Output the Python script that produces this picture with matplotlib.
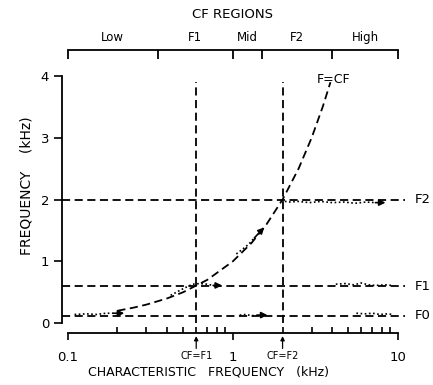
import numpy as np
import matplotlib
matplotlib.use("Agg")
import matplotlib.pyplot as plt
from matplotlib.transforms import blended_transform_factory
from matplotlib.ticker import NullFormatter

plt.rcParams['font.family'] = ['DejaVu Sans']

# CF regions (top bracket axis)
region_bounds = [0.1, 0.35, 1.0, 1.5, 4.0, 10.0]
region_names = ['Low', 'F1', 'Mid', 'F2', 'High']

# formant frequencies (kHz)
formant_names = ['F0', 'F1', 'F2']
formant_freqs = [0.12, 0.6, 2.0]

# CF = F1 and CF = F2 markers
cf_marks = [0.6, 2.0]
cf_labels = ['CF=F1', 'CF=F2']

# F = CF line
cf_curve = [0.2, 0.25, 0.3, 0.4, 0.5, 0.7, 1.0, 1.3, 1.6, 2.0, 2.5, 3.0, 3.5, 3.9]

# response traces (dotted)
low_x = [0.11, 0.13, 0.15, 0.17, 0.19]
low_y = [0.14, 0.15, 0.14, 0.16, 0.16]
low_arrow = (0.22, 0.16)
f1a_x = [0.42, 0.47, 0.52, 0.57, 0.63, 0.70, 0.76]
f1a_y = [0.45, 0.52, 0.58, 0.63, 0.64, 0.63, 0.61]
f1a_arrow = (0.86, 0.61)
mid_x = [1.1, 1.2, 1.3, 1.42]
mid_y = [0.13, 0.14, 0.12, 0.13]
mid_arrow = (1.62, 0.13)
f2c_x = [1.05, 1.15, 1.25, 1.35]
f2c_y = [1.12, 1.2, 1.28, 1.38]
f2c_arrow = (1.55, 1.55)
f2_x = [1.95, 2.2, 2.5, 2.9, 3.4, 4.0, 4.7, 5.5, 6.4, 7.3]
f2_y = [1.98, 1.96, 1.97, 1.95, 1.97, 1.95, 1.96, 1.94, 1.96, 1.95]
f2_arrow = (8.4, 1.95)
f1r_x = [4.2, 4.8, 5.4, 6.0, 6.6, 7.3, 8.4, 9.2]
f1r_y = [0.63, 0.64, 0.62, 0.65, 0.62, 0.61, 0.62, 0.61]
f0r_x = [5.6, 6.3, 7.0, 7.8, 8.6, 9.4]
f0r_y = [0.16, 0.15, 0.16, 0.14, 0.15, 0.14]

fig = plt.figure(figsize=(4.33, 3.85), dpi=100)
ax = fig.add_axes([67.7 / 433, 52 / 385, 330.3 / 433, 257 / 385])
ax.set_xscale('log')
ax.set_xlim(0.1, 10)
ax.set_ylim(-0.16, 4)

for s in ['top', 'right']:
    ax.spines[s].set_visible(False)
ax.spines['left'].set_position(('outward', 4.3))
ax.spines['left'].set_bounds(0, 4)
ax.spines['left'].set_linewidth(1.3)
ax.spines['bottom'].set_linewidth(1.3)

ax.set_yticks([0, 1, 2, 3, 4])
ax.tick_params(axis='y', direction='out', length=6, width=1.2, pad=3, labelsize=9.5)
ax.set_xticks([0.1, 1, 10])
ax.set_xticklabels(['0.1', '1', '10'])
ax.xaxis.set_minor_formatter(NullFormatter())
ax.tick_params(axis='x', which='major', direction='out', length=5, width=1.2,
               pad=8, labelsize=9.5)
ax.tick_params(axis='x', which='minor', direction='in', length=4, width=1.2)

ax.set_xlabel('CHARACTERISTIC   FREQUENCY   (kHz)', fontsize=9)
ax.xaxis.set_label_coords(0.425, -0.125)
ax.set_ylabel('FREQUENCY    (kHz)', fontsize=10)
ax.yaxis.set_label_coords(-0.105, 0.572)

dash = dict(color='black', lw=1.3, ls=(0, (4.5, 2.5)))

# horizontal formant lines with labels at the right
for name, f in zip(formant_names, formant_freqs):
    ax.plot([0.092, 11.0], [f, f], clip_on=False, **dash)
    ax.text(12.6, f, name, va='center', ha='left', fontsize=9.5, clip_on=False)

# vertical CF = F lines
for cf in cf_marks:
    ax.plot([cf, cf], [0, 3.9], **dash)

# F = CF line
ax.plot(cf_curve, cf_curve, **dash)
ax.text(4.1, 3.95, 'F=CF', ha='center', va='center', fontsize=9)

# response traces
dot = dict(color='black', lw=1.2, ls=(0, (1, 1.5)))
for xs, ys in [(low_x, low_y), (f1a_x, f1a_y), (mid_x, mid_y), (f2c_x, f2c_y),
               (f2_x, f2_y), (f1r_x, f1r_y), (f0r_x, f0r_y)]:
    ax.plot(xs, ys, **dot)
for (xs, ys), tip in [((low_x, low_y), low_arrow), ((f1a_x, f1a_y), f1a_arrow),
                      ((mid_x, mid_y), mid_arrow), ((f2c_x, f2c_y), f2c_arrow),
                      ((f2_x, f2_y), f2_arrow)]:
    ax.annotate('', xy=tip, xytext=(xs[-1], ys[-1]),
                arrowprops=dict(arrowstyle='-|>', color='black', lw=1.2,
                                mutation_scale=9, shrinkA=0, shrinkB=0))

# CF markers below the axis
trans = blended_transform_factory(ax.transData, ax.transAxes)
for cf, lab in zip(cf_marks, cf_labels):
    ax.annotate('', xy=(cf, -0.012), xytext=(cf, -0.06), xycoords=trans,
                textcoords=trans, annotation_clip=False,
                arrowprops=dict(arrowstyle='-|>', color='black', lw=0.9,
                                mutation_scale=6, shrinkA=0, shrinkB=0))
    ax.text(cf, -0.09, lab, transform=trans, ha='center', va='center', fontsize=7)

# top bracket axis: CF regions
top = ax.twiny()
top.set_xscale('log')
top.set_xlim(0.1, 10)
for s in ['left', 'right', 'bottom']:
    top.spines[s].set_visible(False)
top.spines['top'].set_position(('outward', 18.7))
top.spines['top'].set_linewidth(1.3)
top.set_xticks(region_bounds)
top.set_xticklabels([])
centers = [np.sqrt(a * b) for a, b in zip(region_bounds[:-1], region_bounds[1:])]
top.set_xticks(centers, minor=True)
top.set_xticklabels(region_names, minor=True)
top.tick_params(axis='x', which='major', direction='in', length=6.5, width=1.3)
top.tick_params(axis='x', which='minor', length=0, pad=4, labelsize=8.5)
top.set_xlabel('CF REGIONS', fontsize=9.5, labelpad=10)

fig.savefig('out.png', dpi=100)
